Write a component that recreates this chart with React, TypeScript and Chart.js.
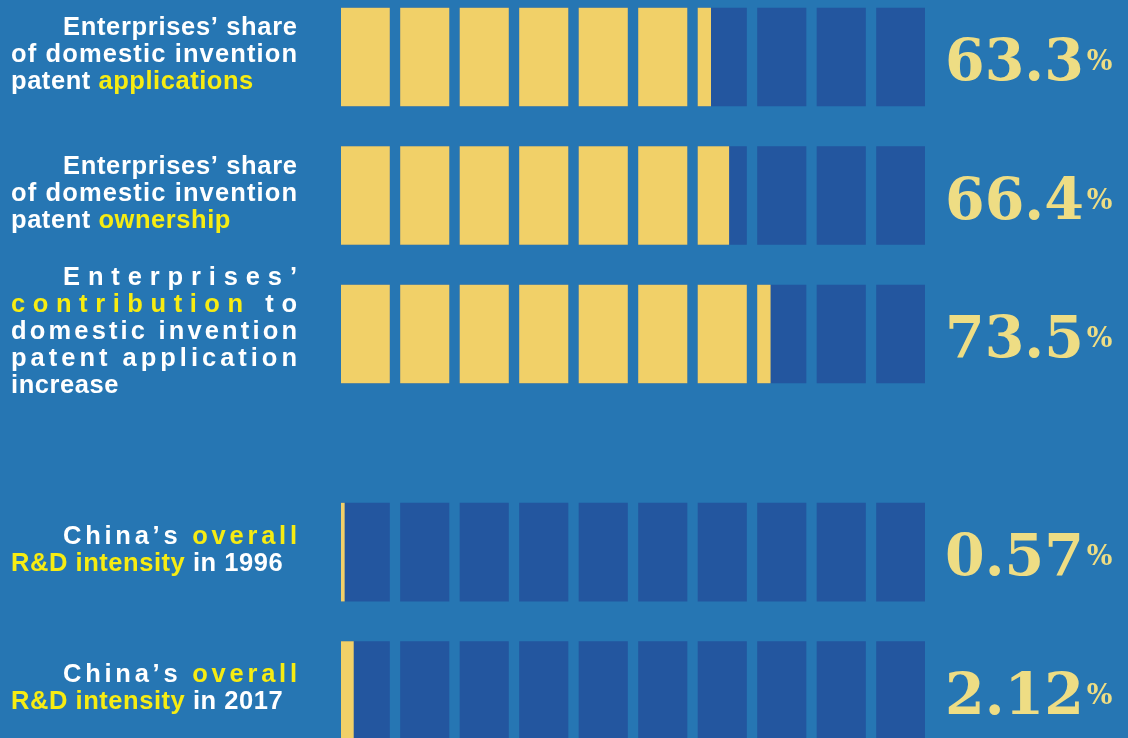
import React, { useEffect, useRef } from "react";
import { Chart, registerables } from "chart.js";

Chart.register(...registerables);

// ---------- data ----------
const labelLines: string[][] = [
  ["Enterprises’ share", "of domestic invention", "patent {applications}"],
  ["Enterprises’ share", "of domestic invention", "patent {ownership}"],
  ["Enterprises’", "{contribution} to", "domestic invention", "patent application", "increase"],
  ["China’s {overall}", "{R&D intensity} in 1996"],
  ["China’s {overall}", "{R&D intensity} in 2017"],
];
const values: number[] = [63.3, 66.4, 73.5, 0.57, 2.12];
const sections: number[] = [0, 0, 0, 1, 1];
const segmentCount = 10;
const scaleMax = 100;

// ---------- layout / style ----------
const W = 1128;
const H = 738;
const PLOT_LEFT = 341;
const PLOT_RIGHT = 925;
const ROW_PITCH_PX = 138.5;
const FIRST_ROW_CENTER = 57;
const SECTION_GAP = 0.575;
const BAR_THICKNESS = 98;
const BLOCK_WIDTH = 8.3;
const BLOCK_PITCH = (scaleMax - BLOCK_WIDTH) / (segmentCount - 1);

const BG = "#2676b3";
const DARK = "#23569f";
const GOLD = "#f1d068";
const HIGHLIGHT = "#f7ec12";
const WHITE = "#ffffff";
const VALUE_COLOR = "#eedd84";

const LABEL_FONT = 'bold 25.5px "Liberation Sans", Arial, sans-serif';
const VALUE_FONT = 'bold 57px "DejaVu Serif", serif';
const PCT_FONT = 'bold 27px "DejaVu Serif", serif';
const LABEL_LEFT = 11;
const LABEL_INDENT_LEFT = 63;
const LABEL_RIGHT = 297;
const LINE_HEIGHT = 27;
const CAP_HEIGHT = 18.3;
const TRACKING = 0.55;

const yMin = -FIRST_ROW_CENTER / ROW_PITCH_PX;
const yMax = yMin + H / ROW_PITCH_PX;

const rowPos = (r: number) => r + sections[r] * SECTION_GAP;
const blockStart = (i: number) => i * BLOCK_PITCH;
const blockEnd = (i: number) => blockStart(i) + BLOCK_WIDTH;

function drawLine(
  ctx: CanvasRenderingContext2D,
  line: string,
  xStart: number,
  xEnd: number | null,
  baseline: number
) {
  const chars: { ch: string; color: string }[] = [];
  line.split(/(\{[^}]*\})/).forEach((part) => {
    if (!part) return;
    const hl = part.startsWith("{");
    const t = hl ? part.slice(1, -1) : part;
    for (const ch of t) chars.push({ ch, color: hl ? HIGHLIGHT : WHITE });
  });
  const widths = chars.map((c) => ctx.measureText(c.ch).width);
  const total = widths.reduce((a, b) => a + b, 0);
  const gap =
    xEnd == null || chars.length < 2
      ? TRACKING
      : (xEnd - xStart - total) / (chars.length - 1);
  let x = xStart;
  chars.forEach((c, i) => {
    ctx.fillStyle = c.color;
    ctx.fillText(c.ch, x, baseline);
    x += widths[i] + gap;
  });
}

const textPlugin = {
  id: "sideText",
  beforeDraw(chart: any) {
    const ctx = chart.ctx as CanvasRenderingContext2D;
    ctx.save();
    ctx.fillStyle = BG;
    ctx.fillRect(0, 0, chart.width, chart.height);
    ctx.restore();
  },
  afterDatasetsDraw(chart: any) {
    const ctx = chart.ctx as CanvasRenderingContext2D;
    const yScale = chart.scales.y;
    const right = chart.chartArea.right;
    ctx.save();
    ctx.textBaseline = "alphabetic";
    ctx.textAlign = "left";
    labelLines.forEach((lines, r) => {
      const cy = yScale.getPixelForValue(rowPos(r));
      // labels
      ctx.font = LABEL_FONT;
      const n = lines.length;
      const blockH = (n - 1) * LINE_HEIGHT + CAP_HEIGHT;
      const firstBaseline = cy - 4 - blockH / 2 + CAP_HEIGHT;
      lines.forEach((line, li) => {
        const last = li === n - 1;
        const xs = li === 0 ? LABEL_INDENT_LEFT : LABEL_LEFT;
        drawLine(ctx, line, xs, last ? null : LABEL_RIGHT, firstBaseline + li * LINE_HEIGHT);
      });
      // value
      const s = String(values[r]);
      ctx.font = VALUE_FONT;
      ctx.fillStyle = VALUE_COLOR;
      const vx = right + 20;
      ctx.fillText(s, vx, cy + 23);
      const w = ctx.measureText(s).width;
      ctx.font = PCT_FONT;
      ctx.fillText("%", vx + w + 3, cy + 13);
    });
    ctx.restore();
  },
};

export default function App() {
  const ref = useRef<HTMLCanvasElement>(null);

  useEffect(() => {
    document.body.style.margin = "0";
    document.body.style.background = BG;
    const canvas = ref.current!;

    const datasets: any[] = [];
    for (let i = 0; i < segmentCount; i++) {
      datasets.push({
        label: "block" + i,
        data: values.map((_, r) => ({ x: [blockStart(i), blockEnd(i)], y: rowPos(r) })),
        backgroundColor: DARK,
        order: 1,
      });
    }
    for (let i = 0; i < segmentCount; i++) {
      datasets.push({
        label: "fill" + i,
        data: values.flatMap((v, r) =>
          v > blockStart(i)
            ? [{ x: [blockStart(i), Math.min(blockEnd(i), v)], y: rowPos(r) }]
            : []
        ),
        backgroundColor: GOLD,
        order: 0,
      });
    }

    const chart = new Chart(canvas, {
      type: "bar",
      data: { datasets },
      options: {
        indexAxis: "y",
        animation: false,
        responsive: false,
        devicePixelRatio: 1,
        events: [],
        layout: { padding: { left: PLOT_LEFT, right: W - PLOT_RIGHT, top: 0, bottom: 0 } },
        plugins: { legend: { display: false }, tooltip: { enabled: false } },
        datasets: { bar: { barThickness: BAR_THICKNESS, borderWidth: 0 } },
        scales: {
          x: { type: "linear", min: 0, max: scaleMax, display: false, bounds: "data" },
          y: {
            type: "linear",
            min: yMin,
            max: yMax,
            reverse: true,
            stacked: true,
            offset: false,
            display: false,
            bounds: "data",
          },
        },
      } as any,
      plugins: [textPlugin],
    });
    return () => chart.destroy();
  }, []);

  return (
    <div style={{ width: W, height: H, background: BG }}>
      <canvas ref={ref} width={W} height={H} style={{ display: "block", width: W, height: H }} />
    </div>
  );
}
